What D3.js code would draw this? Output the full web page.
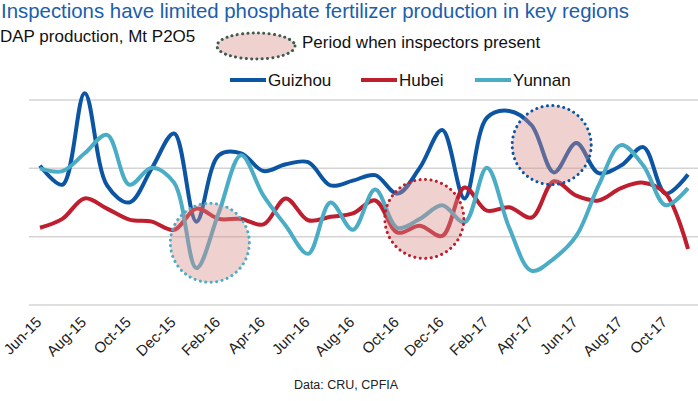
<!DOCTYPE html>
<html>
<head>
<meta charset="utf-8">
<script src="https://cdn.jsdelivr.net/npm/d3@7"></script>
<style>
  body { margin: 0; background: #fff; }
  svg { display: block; font-family: "Liberation Sans", Arial, sans-serif; }
</style>
</head>
<body>
<div id="chart"></div>
<script>
// months on the category axis
var months = ["Jun-15", "Jul-15", "Aug-15", "Sep-15", "Oct-15", "Nov-15", "Dec-15",
    "Jan-16", "Feb-16", "Mar-16", "Apr-16", "May-16", "Jun-16", "Jul-16", "Aug-16",
    "Sep-16", "Oct-16", "Nov-16", "Dec-16", "Jan-17", "Feb-17", "Mar-17", "Apr-17",
    "May-17", "Jun-17", "Jul-17", "Aug-17", "Sep-17", "Oct-17", "Nov-17"];

// DAP production, Mt P2O5
var guizhou = [0.204, 0.176, 0.310, 0.175, 0.150, 0.200, 0.251, 0.122, 0.219, 0.222,
    0.196, 0.206, 0.209, 0.175, 0.182, 0.190, 0.163, 0.201, 0.256, 0.156,
    0.274, 0.284, 0.263, 0.194, 0.237, 0.193, 0.204, 0.231, 0.163, 0.191];
var hubei = [0.113, 0.126, 0.156, 0.141, 0.125, 0.122, 0.110, 0.141, 0.126, 0.126,
    0.118, 0.156, 0.124, 0.129, 0.134, 0.153, 0.106, 0.116, 0.101, 0.172,
    0.138, 0.143, 0.128, 0.181, 0.160, 0.153, 0.171, 0.179, 0.163, 0.082];
var yunnan = [0.200, 0.196, 0.222, 0.249, 0.176, 0.201, 0.179, 0.054, 0.135, 0.219,
    0.160, 0.116, 0.075, 0.150, 0.110, 0.169, 0.113, 0.126, 0.146, 0.121,
    0.201, 0.113, 0.050, 0.068, 0.101, 0.175, 0.234, 0.204, 0.146, 0.171];

var seriesNames = ["Guizhou", "Hubei", "Yunnan"];
var seriesColors = ["#0b55a3", "#be1e2d", "#4bacc6"];

// inspection periods: centre (month index, level) and which region
var inspectAt = [7.6, 17.2, 22.9];
var inspectLevel = [0.091, 0.126, 0.234];
var inspectRegion = ["Yunnan", "Hubei", "Guizhou"];

var yTicks = [0, 0.1, 0.2, 0.3];

var width = 698, height = 401;

var svg = d3.select("#chart").append("svg")
    .attr("width", width)
    .attr("height", height);

var x = d3.scaleLinear().domain([0, months.length - 1]).range([40, 688]);
var y = d3.scaleLinear().domain([0, 0.3]).range([305, 100]);
var color = d3.scaleOrdinal().domain(seriesNames).range(seriesColors);

// title + subtitle
svg.append("text").text("Inspections have limited phosphate fertilizer production in key regions")
    .attr("x", 1).attr("y", 18)
    .attr("font-size", 20.4).attr("fill", "#1b5eab");
svg.append("text").text("DAP production, Mt P2O5")
    .attr("x", 0).attr("y", 42)
    .attr("font-size", 17).attr("fill", "#111");

// gridlines
svg.append("g").selectAll("line").data(yTicks).enter().append("line")
    .attr("x1", 29).attr("x2", 698)
    .attr("y1", function(d){ return y(d); })
    .attr("y2", function(d){ return y(d); })
    .attr("stroke", "#d4d4d4").attr("stroke-width", 1.5);

// x axis, every other month
var xAxis = d3.axisBottom(x)
    .tickValues(d3.range(0, months.length, 2))
    .tickFormat(function(i){ return months[i]; })
    .tickSize(0);
var gx = svg.append("g").attr("transform", "translate(0,305)").call(xAxis);
gx.select(".domain").remove();
gx.selectAll("text")
    .attr("font-family", "Liberation Sans, Arial, sans-serif")
    .attr("font-size", 15)
    .attr("fill", "#222")
    .attr("text-anchor", "end")
    .attr("dy", 0)
    .attr("y", 0)
    .attr("transform", "translate(2,18) rotate(-45)");

// lines
var line = d3.line()
    .x(function(d, i){ return x(i); })
    .y(function(d){ return y(d); })
    .curve(d3.curveCatmullRom.alpha(0.5));

var allSeries = [guizhou, hubei, yunnan];
svg.append("g").selectAll("path").data(allSeries).enter().append("path")
    .attr("d", line)
    .attr("fill", "none")
    .attr("stroke", function(d, i){ return color(seriesNames[i]); })
    .attr("stroke-width", 4)
    .attr("stroke-linejoin", "round");

// inspection circles on top
svg.append("g").selectAll("circle").data(inspectAt).enter().append("circle")
    .attr("cx", function(d){ return x(d); })
    .attr("cy", function(d, i){ return y(inspectLevel[i]); })
    .attr("r", 39.5)
    .attr("fill", "rgba(214, 140, 138, 0.4)")
    .attr("stroke", function(d, i){ return color(inspectRegion[i]); })
    .attr("stroke-width", 3)
    .attr("stroke-linecap", "round")
    .attr("stroke-dasharray", "0.1 5.4");

// legend: inspection ellipse
svg.append("ellipse")
    .attr("cx", 256).attr("cy", 46).attr("rx", 39).attr("ry", 13)
    .attr("fill", "rgba(214, 140, 138, 0.4)")
    .attr("stroke", "#3f5c4b").attr("stroke-width", 3)
    .attr("stroke-linecap", "round").attr("stroke-dasharray", "0.1 5.2");
svg.append("text").text("Period when inspectors present")
    .attr("x", 302).attr("y", 48)
    .attr("font-size", 17).attr("fill", "#111");

// legend: series
var legendX = [230, 361, 475];
var leg = svg.append("g").selectAll("g").data(seriesNames).enter().append("g")
    .attr("transform", function(d, i){ return "translate(" + legendX[i] + ",80)"; });
leg.append("line")
    .attr("x1", 0).attr("x2", 36)
    .attr("stroke", function(d){ return color(d); })
    .attr("stroke-width", 4);
leg.append("text").text(function(d){ return d; })
    .attr("x", 38).attr("y", 6)
    .attr("font-size", 17).attr("fill", "#111");

// source
svg.append("text").text("Data: CRU, CPFIA")
    .attr("x", 346).attr("y", 389)
    .attr("text-anchor", "middle")
    .attr("font-size", 12.5).attr("fill", "#222");
</script>
</body>
</html>
